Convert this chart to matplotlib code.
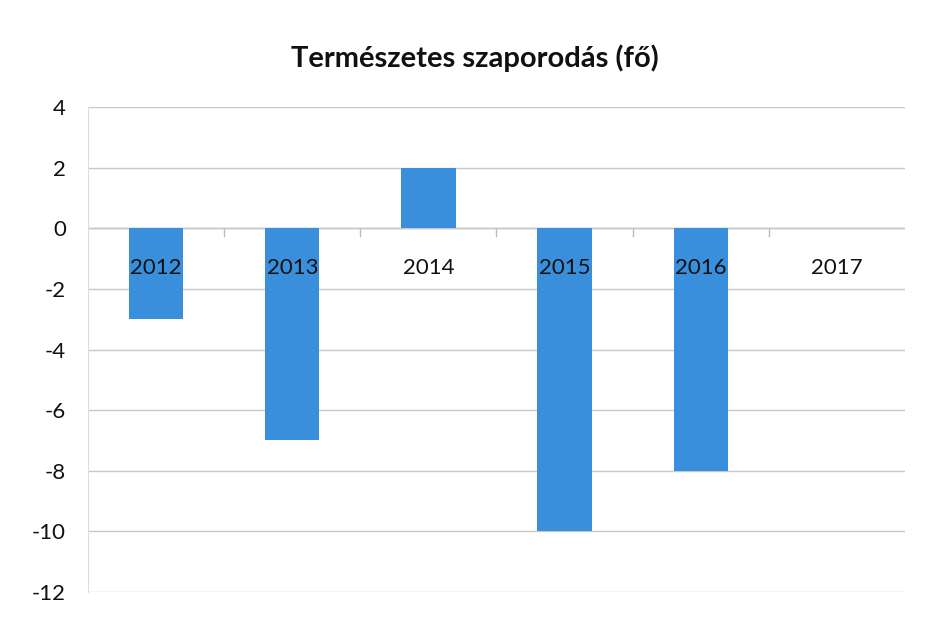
import matplotlib
matplotlib.use("Agg")
import matplotlib.pyplot as plt
import numpy as np

years = ["2012", "2013", "2014", "2015", "2016", "2017"]
values = [-3, -7, 2, -10, -8, 0]
yticks = [4, 2, 0, -2, -4, -6, -8, -10, -12]
title = "Természetes szaporodás (fő)"

plt.rcParams['font.family'] = ['Lato', 'DejaVu Sans']

fig = plt.figure(figsize=(9.25, 6.22), dpi=100)
ax = fig.add_axes([88/925, 1-592/622, (905-88)/925, (592-107)/622])

x = np.arange(len(years))
ax.bar(x, values, width=0.4, color="#3a8fdc", zorder=2)

ax.set_xlim(-0.5, len(years)-0.5)
ax.set_ylim(-12, 4)
ax.set_yticks(yticks)
ax.set_yticklabels([str(v) for v in yticks], fontsize=16, color="#111111")
ax.tick_params(axis='y', length=0, pad=16)
ax.set_xticks([])
ax.grid(axis='y', color="#c8c8c8", linewidth=1, zorder=0)
for s in ["top", "right", "bottom"]:
    ax.spines[s].set_visible(False)
ax.spines["left"].set_color("#dddddd")
ax.axhline(0, color="#b0b0b0", linewidth=1, zorder=1)
for b in np.arange(0.5, len(years)-0.5, 1):
    ax.plot([b, b], [0, -0.25], color="#bbbbbb", linewidth=1, zorder=1)

for xi, lab in zip(x, years):
    ax.text(xi, -1.3, lab, ha="center", va="center", fontsize=16, color="#111111", zorder=3)

fig.text(475/925, 1-58/622, title, ha="center", va="center", fontsize=21, fontweight="bold", color="#111111")

fig.savefig("out.png", dpi=100)
